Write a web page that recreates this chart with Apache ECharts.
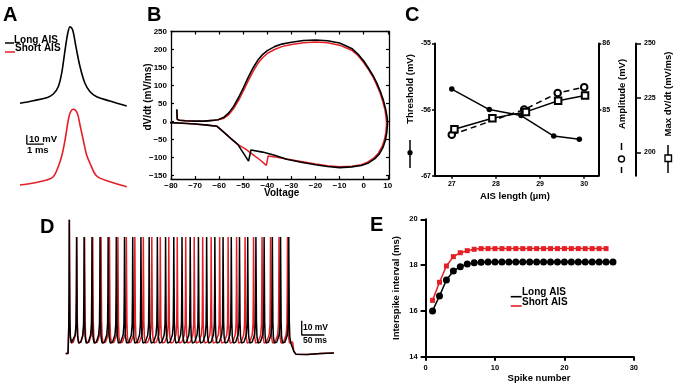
<!DOCTYPE html>
<html><head><meta charset="utf-8">
<script src="https://cdn.jsdelivr.net/npm/echarts@6/dist/echarts.min.js"></script>
<style>html,body{margin:0;padding:0;background:#fff}#c{width:675px;height:385px}</style>
</head><body><div id="c"></div>
<script>
// ---------- Panel A : single action potentials (ms, mV) ----------
const apTimeLong  = [0, 0.78, 1.57, 1.96, 2.25, 2.45, 2.65, 2.81, 2.94, 3.10, 3.29, 3.53, 3.82, 4.12, 4.51, 5.29, 6.28];
const apVLong     = [-75.1, -72.2, -68.9, -64.8, -56.7, -41.8, -15.9, 2.7, 10, 6.3, -12.2, -34.4, -52.9, -62.2, -67.8, -72.6, -78.1];
const apTimeShort = [0, 0.78, 1.57, 1.96, 2.25, 2.47, 2.65, 2.82, 2.94, 3.13, 3.37, 3.53, 3.72, 3.92, 4.12, 4.51, 5.29, 6.28];
const apVShort    = [-74.1, -71.9, -68.6, -64.9, -53.8, -40.8, -24.1, -4.1, 5.6, 10, 5.6, -7.4, -24.1, -40.8, -50, -64.1, -70.4, -76];

// ---------- Panel B : phase plots (Voltage mV, dV/dt mV/ms) ----------
const phaseLongV = [-77.6,-77.4,-76.5,-74,-70,-66,-63,-60.5,-58,-56,-54,-52,-50,-48,-46,-44,-42,-40,-37,-34,-30,-25,-20,-15,-10,-5,-2.5,0,2,4,5.5,7,8.2,9.1,9.7,9.9,9.6,9.0,8.0,6.5,4.5,2,-1,-5,-10,-15,-20,-26,-32,-37,-42,-46.8,-47.8,-50,-52.3,-55,-58,-61,-65,-70,-75,-80.5];
const phaseLongD = [34,6,3.5,2,1,1,3,5,12,24,42,66,93,122,148,170,186,197,208,215,220,225,226.5,224.5,218,203,188,168,148,126,106,82,58,35,12,-5,-30,-52,-72,-90,-104,-115,-122,-126,-128,-125,-120,-113,-105,-94,-85,-79,-110,-87,-63.5,-48,-30,-13,-10,-7,-5,-3];
const phaseShortV = [-77.6,-77.4,-76.5,-74,-70,-66,-63,-60.5,-58,-56,-54,-52,-50,-48,-46,-44,-42,-40,-37,-34,-30,-25,-20,-15,-10,-5,-2.5,0,2,4,5.3,6.8,7.9,8.8,9.3,9.5,9.2,8.6,7.6,6.1,4.1,1.6,-1,-5,-10,-15,-20,-26,-32,-36,-39.7,-40.4,-43,-46,-49,-52.3,-55,-58,-61,-65,-70,-75,-80.5];
const phaseShortD = [32,6,3.5,2,1,1,2.5,4.5,9,19,36,58,84,112,138,161,177,189,200,208,214,219,221,219,212,198,184,164,144,122,103,79,56,33,10,-6,-30,-51,-70,-88,-102,-113,-120,-124,-126,-123,-118,-111,-104,-99,-96,-122,-107,-92,-77,-63.5,-48,-30,-13,-10,-7,-5,-3];
const bTicksV = [-80,-70,-60,-50,-40,-30,-20,-10,0,10];
const bTicksD = [-150,-100,-50,0,50,100,150,200,250];

// ---------- Panel C : AIS length dependence ----------
const cThreshLen = [27.0, 27.85, 28.57, 29.31, 29.89];
const cThreshold = [-55.69, -56.0, -56.09, -56.40, -56.45];
const cAmpLen    = [27.0, 28.64, 29.40, 30.0];
const cAmplitude = [84.62, 85.0, 85.25, 85.34];
const cMaxLen    = [27.06, 27.92, 28.68, 29.41, 30.02];
const cMaxDvdt   = [210.6, 215.7, 218.6, 223.7, 226.1];
const cTicksLen  = [27, 28, 29, 30];
const cTicksThr  = [-55, -56, -57];
const cTickLabelsThr = ['-55', '-56', '-67'];
const cTicksAmp  = [85, 86];
const cTicksMax  = [200, 225, 250];

// ---------- Panel E : interspike intervals (ms) ----------
const isiLong  = [16.0,16.65,17.35,17.74,17.93,18.05,18.1,18.12,18.13,18.13,18.13,18.13,18.13,18.13,18.13,18.13,18.13,18.13,18.13,18.13,18.13,18.13,18.13,18.13,18.13,18.13,18.13];
const isiShort = [16.46,17.25,17.96,18.37,18.54,18.63,18.69,18.72,18.72,18.72,18.72,18.72,18.72,18.72,18.72,18.72,18.72,18.72,18.72,18.72,18.72,18.72,18.72,18.72,18.72,18.72];

// ---------- Panel D : spike train pieces (ms, mV) ----------
const trainOnset   = [[-8,-77.6],[-2.8,-77.6],[-2.2,-70],[-1.2,-58],[-0.5,-35]];
const spikePeakFirst = 16;
const spikePeak      = 4;
const spikeFall    = [[0.5,-22],[1.2,-55],[2.3,-66],[4.5,-70.2]];
const spikePre     = [[-3,-64.5],[-1.2,-57],[-0.5,-35]];
const midIsiV      = -69.6;
const trainTail    = [[493,-69.5],[495.5,-76],[500,-78],[525,-78.3],[555,-77.6],[584,-77.2]];

const RED = '#e41f26';
const FONT = '"Liberation Sans", Arial, sans-serif';

function zip(a, b) { return a.map((v, i) => [v, b[i]]); }

function buildTrain(isis) {
  const times = [0];
  isis.forEach(d => times.push(times[times.length - 1] + d));
  const pts = trainOnset.slice();
  times.forEach((t, i) => {
    pts.push([t, i === 0 ? spikePeakFirst : spikePeak]);
    spikeFall.forEach(p => pts.push([t + p[0], p[1]]));
    if (i < times.length - 1) {
      const nt = times[i + 1];
      pts.push([(t + 4.5 + nt - 3) / 2, midIsiV]);
      spikePre.forEach(p => pts.push([nt + p[0], p[1]]));
    }
  });
  trainTail.forEach(p => pts.push(p));
  return pts;
}

function hiddenX(g, min, max) { return { type: 'value', gridIndex: g, min, max, show: false }; }
function hiddenY(g, min, max) { return { type: 'value', gridIndex: g, min, max, show: false }; }

const lbl = (size, extra) => Object.assign({ color: '#000', fontWeight: 'bold', fontFamily: FONT, fontSize: size }, extra || {});
const axLine = w => ({ show: true, onZero: false, lineStyle: { color: '#000', width: w } });

const minus = v => String(v).replace('-', '\u2212');

const option = {
  animation: false,
  backgroundColor: '#fff',
  grid: [
    { left: 20, top: 17.7, width: 107.1, height: 99, outerBoundsMode: 'none' },     // A long
    { left: 20, top: 100.3, width: 107.1, height: 99, outerBoundsMode: 'none' },    // A short
    { left: 171, top: 31.5, width: 218, height: 147.6, outerBoundsMode: 'none' },   // B
    { left: 435, top: 43.5, width: 163.3, height: 132.2, outerBoundsMode: 'none' }, // C
    { left: 64.8, top: 214, width: 271.8, height: 143, outerBoundsMode: 'none' },   // D
    { left: 425.6, top: 219.3, width: 208.2, height: 137.4, outerBoundsMode: 'none' } // E
  ],
  xAxis: [
    hiddenX(0, 0, 6.3),
    hiddenX(1, 0, 6.3),
    { type: 'value', gridIndex: 2, min: -80, max: 10.5, axisLine: axLine(1.3),
      axisTick: { inside: true, length: 3, customValues: bTicksV, lineStyle: { width: 1.2 } },
      axisLabel: lbl(8, { customValues: bTicksV, margin: 3, formatter: minus }), splitLine: { show: false } },
    { type: 'value', gridIndex: 2, position: 'top', min: -80, max: 10.5, axisLine: axLine(1.3),
      axisTick: { inside: true, length: 3, customValues: bTicksV, lineStyle: { width: 1.2 } },
      axisLabel: { show: false }, splitLine: { show: false } },
    { type: 'value', gridIndex: 3, min: 26.62, max: 30.32, axisLine: axLine(2),
      axisTick: { length: 3, customValues: cTicksLen, lineStyle: { width: 1.5 } },
      axisLabel: lbl(7, { customValues: cTicksLen, margin: 5 }), splitLine: { show: false } },
    hiddenX(4, -10, 590),
    { type: 'value', gridIndex: 5, min: 0, max: 30, interval: 10, axisLine: axLine(2),
      axisTick: { length: 4, lineStyle: { width: 2 } },
      axisLabel: lbl(7.5, { margin: 7 }), splitLine: { show: false } }
  ],
  yAxis: [
    hiddenY(0, -90, 20),
    hiddenY(1, -90, 20),
    { type: 'value', gridIndex: 2, min: -160, max: 250, axisLine: axLine(1.3),
      axisTick: { inside: true, length: 3, customValues: bTicksD, lineStyle: { width: 1.2 } },
      axisLabel: lbl(8, { customValues: bTicksD, margin: 4, formatter: minus }), splitLine: { show: false } },
    { type: 'value', gridIndex: 2, position: 'right', min: -160, max: 250, axisLine: axLine(1.3),
      axisTick: { inside: true, length: 3, customValues: bTicksD, lineStyle: { width: 1.2 } },
      axisLabel: { show: false }, splitLine: { show: false } },
    { type: 'value', gridIndex: 3, min: -57, max: -55, axisLine: axLine(2),
      axisTick: { length: 3, customValues: cTicksThr, lineStyle: { width: 1.5 } },
      axisLabel: lbl(7, { customValues: cTicksThr, margin: 4,
        formatter: v => cTickLabelsThr[cTicksThr.indexOf(Math.round(v))] }), splitLine: { show: false } },
    { type: 'value', gridIndex: 3, position: 'right', min: 84, max: 86, axisLine: axLine(2),
      axisTick: { length: 3, customValues: cTicksAmp, lineStyle: { width: 1.5 } },
      axisLabel: lbl(7, { customValues: cTicksAmp, margin: 4 }), splitLine: { show: false } },
    { type: 'value', gridIndex: 3, position: 'right', offset: 37.7, min: 189.3, max: 250, axisLine: axLine(2),
      axisTick: { length: 5, customValues: cTicksMax, lineStyle: { width: 1.5 } },
      axisLabel: lbl(7, { customValues: cTicksMax, margin: 8 }), splitLine: { show: false } },
    hiddenY(4, -80, 20),
    { type: 'value', gridIndex: 5, min: 14, max: 20, interval: 2, axisLine: axLine(2),
      axisTick: { length: 5, lineStyle: { width: 2 } },
      axisLabel: lbl(7.5, { margin: 8 }), splitLine: { show: false } }
  ],
  series: [
    { type: 'line', xAxisIndex: 0, yAxisIndex: 0, data: zip(apTimeLong, apVLong), smooth: 0.35, showSymbol: false,
      lineStyle: { color: '#000', width: 1.6 } },
    { type: 'line', xAxisIndex: 1, yAxisIndex: 1, data: zip(apTimeShort, apVShort), smooth: 0.35, showSymbol: false,
      lineStyle: { color: RED, width: 1.6 } },
    { type: 'line', xAxisIndex: 1, yAxisIndex: 1, data: [[0.4, -18.6], [0.4, -28.6], [1.4, -28.6]], showSymbol: false,
      lineStyle: { color: '#000', width: 1.3 } },
    { type: 'line', xAxisIndex: 2, yAxisIndex: 2, data: zip(phaseShortV, phaseShortD), showSymbol: false,
      lineStyle: { color: RED, width: 1.5 } },
    { type: 'line', xAxisIndex: 2, yAxisIndex: 2, data: zip(phaseLongV, phaseLongD), showSymbol: false,
      lineStyle: { color: '#000', width: 1.6 } },
    { type: 'line', xAxisIndex: 4, yAxisIndex: 4, data: zip(cThreshLen, cThreshold), symbol: 'circle', symbolSize: 5.5,
      itemStyle: { color: '#000' }, lineStyle: { color: '#000', width: 1.5 } },
    { type: 'line', xAxisIndex: 4, yAxisIndex: 5, data: zip(cAmpLen, cAmplitude), symbol: 'emptyCircle', symbolSize: 6.5,
      itemStyle: { color: '#000', borderWidth: 1.4 }, lineStyle: { color: '#000', width: 1.5, type: [6, 4] } },
    { type: 'line', xAxisIndex: 4, yAxisIndex: 6, data: zip(cMaxLen, cMaxDvdt), symbol: 'emptyRect', symbolSize: 6.5,
      itemStyle: { color: '#000', borderWidth: 1.4 }, lineStyle: { color: '#000', width: 1.5 } },
    { type: 'line', xAxisIndex: 5, yAxisIndex: 7, data: buildTrain(isiShort), showSymbol: false,
      lineStyle: { color: RED, width: 1.5 } },
    { type: 'line', xAxisIndex: 5, yAxisIndex: 7, data: buildTrain(isiLong), showSymbol: false,
      lineStyle: { color: '#000', width: 1.5 } },
    { type: 'line', xAxisIndex: 5, yAxisIndex: 7, data: [[513, -54.6], [513, -64.6], [563, -64.6]], showSymbol: false,
      lineStyle: { color: '#000', width: 1.3 } },
    { type: 'line', xAxisIndex: 6, yAxisIndex: 8, data: isiLong.map((v, i) => [i + 1, v]), symbol: 'circle', symbolSize: 7,
      itemStyle: { color: '#000' }, lineStyle: { color: '#000', width: 1.5 } },
    { type: 'line', xAxisIndex: 6, yAxisIndex: 8, data: isiShort.map((v, i) => [i + 1, v]), symbol: 'rect', symbolSize: 5,
      itemStyle: { color: RED }, lineStyle: { color: RED, width: 1.5 } }
  ],
  graphic: []
};

function txt(x, y, text, size, opts) {
  opts = opts || {};
  const align = opts.align || 'left';
  return { type: 'text', x, y, rotation: opts.rot || 0, silent: true,
    style: { text, font: 'bold ' + size + 'px ' + FONT, fill: opts.color || '#000',
      align, textAlign: align, verticalAlign: 'middle', textVerticalAlign: 'middle' } };
}
function seg(x1, y1, x2, y2, color, w, dash) {
  return { type: 'line', silent: true, shape: { x1, y1, x2, y2 },
    style: { stroke: color || '#000', lineWidth: w || 1.5, lineDash: dash || null } };
}
const R90 = Math.PI / 2;
option.graphic = [
  // panel letters
  txt(3, 15, 'A', 20), txt(147, 15, 'B', 20), txt(405, 15, 'C', 20), txt(40, 227, 'D', 20), txt(370, 225, 'E', 20),
  // A legend
  seg(5, 43, 14, 43, '#000', 1.5), txt(14, 40, 'Long AIS', 10),
  seg(5, 52, 15, 52, RED, 1.5), txt(15, 48.5, 'Short AIS', 10),
  // A scale text
  txt(29, 139, '10 mV', 9.5), txt(27, 150.5, '1 ms', 9.5),
  // B titles
  txt(148.5, 97, 'dV/dt (mV/ms)', 10, { rot: R90, align: 'center' }),
  txt(281.7, 193, 'Voltage', 10, { align: 'center' }),
  // C titles
  txt(410.5, 89, 'Threshold (mV)', 9.5, { rot: R90, align: 'center' }),
  seg(410, 140, 410, 168, '#000', 1.5),
  { type: 'circle', silent: true, shape: { cx: 410, cy: 152.7, r: 2.6 }, style: { fill: '#000' } },
  txt(622, 94, 'Amplitude (mV)', 9.5, { rot: R90, align: 'center' }),
  seg(621.5, 143, 621.5, 150, '#000', 1.5), seg(621.5, 167, 621.5, 173, '#000', 1.5),
  { type: 'circle', silent: true, shape: { cx: 621.5, cy: 159, r: 3 }, style: { fill: '#fff', stroke: '#000', lineWidth: 1.4 } },
  txt(668, 94, 'Max dV/dt (mV/ms)', 9.5, { rot: R90, align: 'center' }),
  seg(668, 145, 668, 173, '#000', 1.5),
  { type: 'rect', silent: true, shape: { x: 665, y: 155, width: 6.5, height: 6.5 }, style: { fill: '#fff', stroke: '#000', lineWidth: 1.4 } },
  txt(515, 196, 'AIS length (\u00b5m)', 9.5, { align: 'center' }),
  // D scale text
  txt(303, 327.5, '10 mV', 8.5), txt(303, 341, '50 ms', 8.5),
  // E titles & legend
  txt(396.7, 288, 'Interspike interval (ms)', 9.5, { rot: R90, align: 'center' }),
  txt(539, 378, 'Spike number', 9.5, { align: 'center' }),
  seg(510.7, 296.7, 521.7, 296.7, '#000', 1.6), txt(522, 292.5, 'Long AIS', 10),
  seg(510.7, 306, 521.7, 306, RED, 1.6), txt(522, 302, 'Short AIS', 10)
];

const chart = echarts.init(document.getElementById('c'), null, { renderer: 'canvas', width: 675, height: 385 });
chart.setOption(option);
</script>
</body></html>
